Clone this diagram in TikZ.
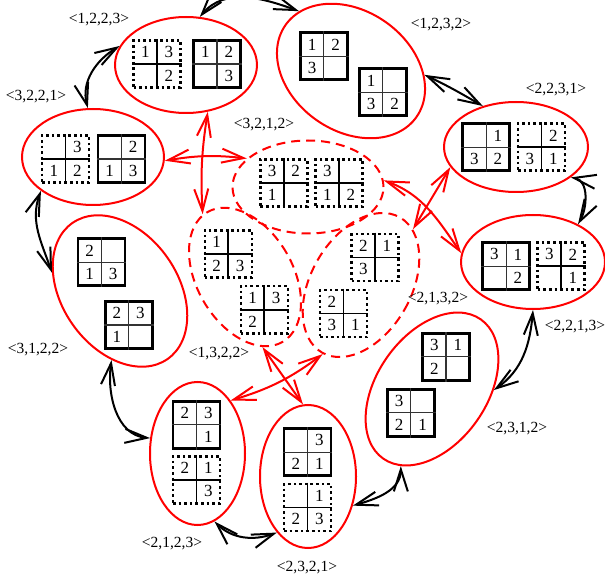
\documentclass[tikz,border=0pt]{standalone}
\usepackage{fontspec}
\setmainfont{Liberation Serif}
\usetikzlibrary{shapes.geometric,arrows.meta}
\tikzset{
  state/.style={ellipse, draw=red, line width=2pt, inner sep=0pt},
  hub/.style={state, dash pattern=on 9pt off 6pt},
  sbox/.style={draw, line width=2.6pt, minimum size=47pt, inner sep=0pt},
  dbox/.style={draw, line width=2.6pt, dash pattern=on 2.6pt off 3pt, minimum size=47pt, inner sep=0pt},
  sbox rule/.style={line width=1.1pt, black!80},
  dbox rule/.style={line width=1.8pt},
  digit/.style={inner sep=0pt, font=\fontsize{17}{17}\selectfont},
  tag/.style={inner sep=0pt, font=\fontsize{15.5}{15.5}\selectfont},
  link/.style={line width=2pt, >={Straight Barb[length=22pt,width=14pt]}, <->},
  rlink/.style={link, red},
}
% a 2x2 tableau: style, name, centre, then the four entries row by row
\newcommand\tableau[7]{%
  \node[#1] (#2) at (#3) {};
  \draw[#1 rule] (#2.north) -- (#2.south) (#2.west) -- (#2.east);
  \node[digit] (#2-a) at ([shift={(-11.75,-11.75)}]#2.center) {#4};
  \node[digit] (#2-b) at ([shift={(11.75,-11.75)}]#2.center) {#5};
  \node[digit] (#2-c) at ([shift={(-11.75,11.75)}]#2.center) {#6};
  \node[digit] (#2-d) at ([shift={(11.75,11.75)}]#2.center) {#7};
}
\begin{document}
\begin{tikzpicture}[x=1pt, y=-1pt]
\useasboundingbox (0,0) rectangle (605,577);

% outer ring of states
\node[state, minimum width=142pt, minimum height=96pt] (E1) at (186,65) {};
\node[state, minimum width=160pt, minimum height=120pt, rotate=-35] (E2) at (351,71) {};
\node[state, minimum width=144pt, minimum height=90pt] (E3) at (516,147) {};
\node[state, minimum width=142pt, minimum height=96pt] (E4) at (93,157) {};
\node[state, minimum width=116pt, minimum height=166pt, rotate=35] (E5) at (120,291) {};
\node[state, minimum width=144pt, minimum height=94pt] (E6) at (533,262) {};
\node[state, minimum width=170pt, minimum height=110pt, rotate=55] (E7) at (432,389) {};
\node[state, minimum width=95pt, minimum height=143pt] (E8) at (197.5,453.5) {};
\node[state, minimum width=96pt, minimum height=143pt] (E9) at (308,476.5) {};

% inner states
\node[hub, minimum width=151pt, minimum height=93pt] (A) at (308,187) {};
\node[hub, minimum width=96pt, minimum height=150pt, rotate=30] (B) at (245,277) {};
\node[hub, minimum width=100pt, minimum height=156pt, rotate=-30] (C) at (361,285) {};

% tableaux
\tableau{dbox}{t1a}{157,64}{1}{3}{}{2}
\tableau{sbox}{t1b}{217,64}{1}{2}{}{3}
\tableau{sbox}{t2a}{323.8,56.2}{1}{2}{3}{}
\tableau{sbox}{t2b}{382.8,92.2}{1}{}{3}{2}
\tableau{sbox}{t3a}{486.2,147.2}{}{1}{3}{2}
\tableau{dbox}{t3b}{541.5,147.2}{}{2}{3}{1}
\tableau{dbox}{t4a}{65.5,159}{}{3}{1}{2}
\tableau{sbox}{t4b}{121.3,159}{}{2}{1}{3}
\tableau{sbox}{t5a}{101.3,262.2}{2}{}{1}{3}
\tableau{sbox}{t5b}{128.7,325}{2}{3}{1}{}
\tableau{sbox}{t6a}{506.2,266.2}{3}{1}{}{2}
\tableau{dbox}{t6b}{561.2,266.2}{3}{2}{}{1}
\tableau{sbox}{t7a}{446,356.8}{3}{1}{2}{}
\tableau{sbox}{t7b}{410.8,412.8}{3}{}{2}{1}
\tableau{sbox}{t8a}{196.5,424.7}{2}{3}{}{1}
\tableau{dbox}{t8b}{196.5,479.7}{2}{1}{}{3}
\tableau{sbox}{t9a}{307.5,452.2}{}{3}{2}{1}
\tableau{dbox}{t9b}{307.5,507.5}{}{1}{2}{3}
\tableau{dbox}{tAa}{283.8,182.8}{3}{2}{1}{}
\tableau{dbox}{tAb}{339.2,182.8}{3}{}{1}{2}
\tableau{dbox}{tBa}{228.3,253.8}{1}{}{2}{3}
\tableau{dbox}{tBb}{264.3,309.7}{1}{3}{2}{}
\tableau{dbox}{tCa}{375,257.5}{2}{1}{3}{}
\tableau{dbox}{tCb}{343.5,313.5}{2}{}{3}{1}

% labels
\node[tag] (L1) at (99,20) {<1,2,2,3>};
\node[tag] (L2) at (441,25) {<1,2,3,2>};
\node[tag] (L3) at (556,90) {<2,2,3,1>};
\node[tag] (L4) at (36,97) {<3,2,2,1>};
\node[tag] (L5) at (38,350) {<3,1,2,2>};
\node[tag] (L6) at (575,327) {<2,2,1,3>};
\node[tag] (L7) at (517,429) {<2,3,1,2>};
\node[tag] (L8) at (172,544) {<2,1,2,3>};
\node[tag] (L9) at (307,568) {<2,3,2,1>};
\node[tag] (LA) at (264,125) {<3,2,1,2>};
\node[tag] (LB) at (219,354) {<1,3,2,2>};
\node[tag] (LC) at (438,299) {<2,1,3,2>};

% moves around the ring
\draw[link] (E1.74) to[out=50,in=160] (E2.166);
\draw[link] (E2.32) to[out=-25,in=150] (E3.129);
\draw[link] (E3.-29) to[out=-10,in=60] (E6.40);
\draw[link] (E6.-90) to[out=-95,in=35] (E7.-56);
\draw[link] (E7.193) to[out=-90,in=16] (E9.-33);
\draw[link] (E9.-119) to[out=-160,in=-45] (E8.-76);
\draw[link] (E8.162) to[out=175,in=-98] (E5.-132);
\draw[link] (E5.130) to[out=109,in=-110] (E4.-147);
\draw[link] (E4.96) to[out=105,in=211] (E1.164);

% moves through the inner states
\draw[rlink] (E4.-3) to[bend left=8] (A.155);
\draw[rlink] (E1.-65) to[bend right=6] (B.94);
\draw[rlink] (A.5) to[out=-20,in=125] (E6.173);
\draw[rlink] (C.77) -- (E3.197);
\draw[rlink] (B.-106) -- (E9.94);
\draw[rlink] (C.-89) to[bend left=10] (E8.58);
\end{tikzpicture}
\end{document}
